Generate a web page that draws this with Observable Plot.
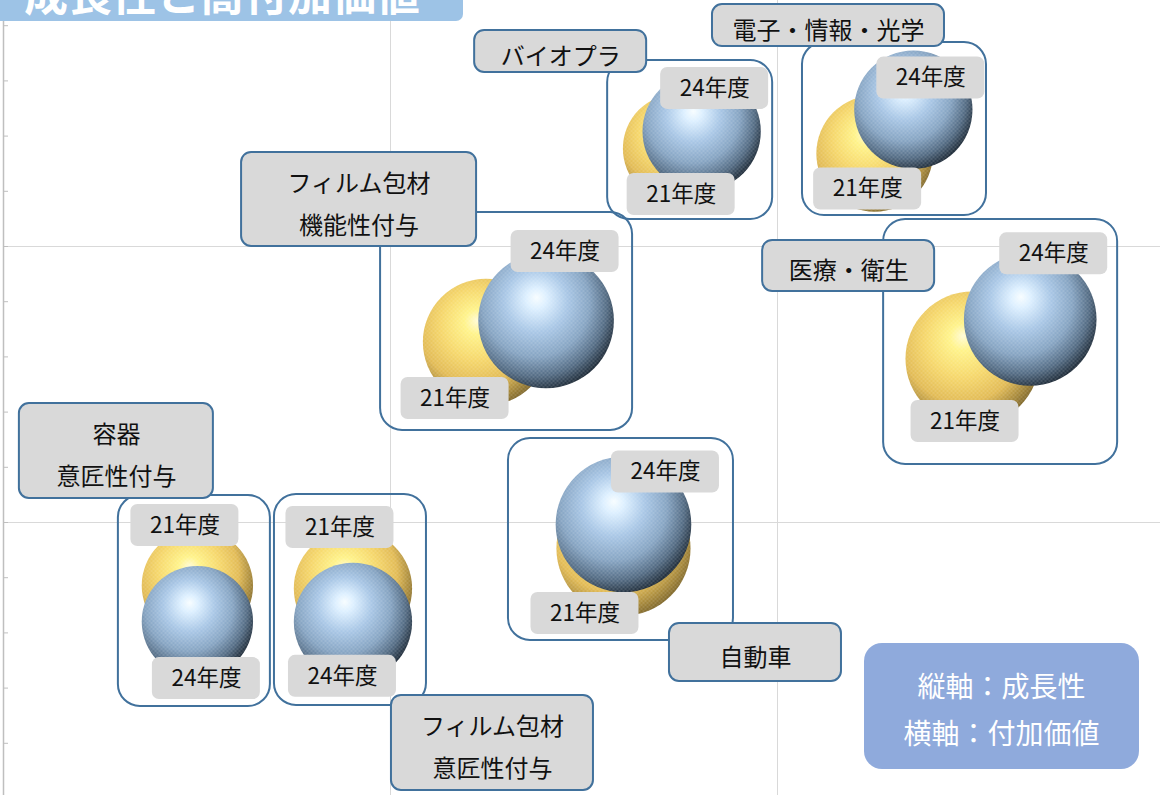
<!DOCTYPE html>
<html><head><meta charset="utf-8">
<script src="https://cdn.jsdelivr.net/npm/d3@7"></script>
<script src="https://cdn.jsdelivr.net/npm/@observablehq/plot@0.6"></script>
<style>
body{margin:0;background:#fff;font-family:"Noto Sans CJK JP",sans-serif;}
#wrap{position:relative;width:1160px;height:795px;overflow:hidden;}
#title{position:absolute;left:0;top:0;z-index:2;width:463px;height:21px;background:#9dc3e6;border-radius:0 0 7px 0;overflow:hidden;}
#title span{position:absolute;left:24px;top:-30px;font-size:44px;line-height:44px;font-weight:bold;color:#fff;white-space:nowrap;}
#chart{position:absolute;left:0;top:0;}
#chart svg{display:block;}
#note{position:absolute;z-index:2;left:864px;top:643px;width:275px;height:126px;box-sizing:border-box;padding-top:19px;background:#8faadc;border-radius:18px;color:#fff;font-size:28px;line-height:47px;text-align:center;}
</style>
</head><body>
<div id="wrap">
  <div id="chart"></div>
  <div id="title"><span>成長性と高付加価値</span></div>
  <div id="note">縦軸：成長性<br>横軸：付加価値</div>
</div>
<script>
// ---------- data ----------
const categories = ["バイオプラ", "電子・情報・光学", "フィルム包材\n機能性付与", "医療・衛生", "自動車", "容器\n意匠性付与", "フィルム包材\n意匠性付与"];
const years = ["21年度", "24年度"];
// 横軸：付加価値 / 縦軸：成長性 / bubble size
const value21  = [1.742, 2.251, 1.247, 2.504, 1.602, 0.501, 0.903];
const growth21 = [2.355, 2.337, 1.654, 1.594, 0.906, 0.772, 0.761];
const size21   = [30, 34, 40, 45, 45, 31, 35];
const value24  = [1.804, 2.351, 1.402, 2.653, 1.602, 0.501, 0.903];
const growth24 = [2.417, 2.496, 1.732, 1.736, 0.993, 0.641, 0.640];
const size24   = [35, 35, 46, 44, 46, 31, 35];
const yMinorTicks = [0.2, 0.4, 0.6, 0.8, 1.0, 1.2, 1.4, 1.6, 1.8, 2.0, 2.2, 2.4, 2.6, 2.8];
const gridXTicks = [1, 2];
const gridYTicks = [1, 2];

// ---------- layout (pixels) ----------
const W = 1160, H = 795, ML = 3;
const KX = 387, KY = 276; // px per unit
const xDomain = [0, (W - ML) / KX];
const yDomain = [3 / KY, (H + 3) / KY];
const groupBox = [[-82,-79.5,83,79.5],[-91.5,-89,92.5,84],[-135.5,-118.75,116.5,99.25],[-117.75,-119.5,116.25,125.5],[-115,-98,110,104],[-79,-108,73,103],[-78.5,-110.75,73.5,100.25]];
const catBox = [[-129,-88.5,172,42],[-65.5,-106,232,42],[-157,-131.75,235,94],[-152.75,-73,172,51],[132,116,172,58],[-81,-152.5,194,95],[139.5,137.75,202,95]];
const yearOff21 = [[3.5,46],[-7,35.5],[-31,56.5],[-7.5,63],[-38.5,65],[-12.5,-60],[-13,-61]];
const yearOff24 = [[13,-43],[17.5,-31.5],[19,-69],[23.5,-65.5],[42,-52.5],[9,57],[-10.5,54.5]];
const YW = 108, YH = 42;
const font = '"Noto Sans CJK JP", sans-serif';

// ---------- tables ----------
const b21 = categories.map((c, i) => ({cat: c, year: years[0], x: value21[i], y: growth21[i], size: size21[i], off: yearOff21[i]}));
const b24 = categories.map((c, i) => ({cat: c, year: years[1], x: value24[i], y: growth24[i], size: size24[i], off: yearOff24[i]}));
const px = d => d / KX, py = d => -d / KY;
const groups = categories.map((c, i) => {
  const ax = (value21[i] + value24[i]) / 2, ay = (growth21[i] + growth24[i]) / 2;
  const g = groupBox[i], k = catBox[i];
  return {cat: c, ax, ay,
    gx1: ax + px(g[0]), gx2: ax + px(g[2]), gy1: ay + py(g[1]), gy2: ay + py(g[3]),
    lx: ax + px(k[0]), ly: ay + py(k[1]), lw: k[2], lh: k[3]};
});
const yearLabels = [...b21, ...b24].map(d => ({year: d.year, lx: d.x + px(d.off[0]), ly: d.y + py(d.off[1])}));

const chart = Plot.plot({
  width: W, height: H,
  marginLeft: ML, marginRight: 0, marginTop: 0, marginBottom: 0,
  x: {domain: xDomain, axis: null},
  y: {domain: yDomain, axis: null},
  r: {type: "sqrt", domain: [0, 46], range: [0, 67.8]},
  style: {fontFamily: font, background: "transparent"},
  marks: [
    Plot.gridX(gridXTicks, {stroke: "#d9d9d9", strokeOpacity: 1}),
    Plot.gridY(gridYTicks, {stroke: "#d9d9d9", strokeOpacity: 1}),
    Plot.ruleX([0], {stroke: "#bfbfbf", strokeWidth: 1.5}),
    Plot.ruleY(yMinorTicks, {x1: 0, x2: px(5), stroke: "#bfbfbf"}),
    Plot.rect(groups, {x1: "gx1", x2: "gx2", y1: "gy1", y2: "gy2", fill: "none", stroke: "#41719c", strokeWidth: 2, rx: 22}),
    Plot.dot(b21, {x: "x", y: "y", r: "size", fill: "url(#gYellow)"}),
    Plot.dot(b21, {x: "x", y: "y", r: "size", fill: "url(#tex)"}),
    Plot.dot(b24, {x: "x", y: "y", r: "size", fill: "url(#gBlue)"}),
    Plot.dot(b24, {x: "x", y: "y", r: "size", fill: "url(#tex)"}),
    Plot.rect(yearLabels, {x1: d => d.lx - px(YW / 2), x2: d => d.lx + px(YW / 2), y1: d => d.ly - YH / 2 / KY, y2: d => d.ly + YH / 2 / KY, fill: "#d9d9d9", rx: 7}),
    Plot.text(yearLabels, {x: "lx", y: "ly", text: "year", fontSize: 22.5, fill: "#111", fontFamily: font}),
    Plot.rect(groups, {x1: d => d.lx - px(d.lw / 2), x2: d => d.lx + px(d.lw / 2), y1: d => d.ly - d.lh / 2 / KY, y2: d => d.ly + d.lh / 2 / KY, fill: "#d9d9d9", stroke: "#41719c", strokeWidth: 2, rx: 10}),
    Plot.text(groups, {x: "lx", y: "ly", text: "cat", fontSize: 24, lineHeight: 1.75, fill: "#111", fontFamily: font})
  ]
});
document.getElementById("chart").appendChild(chart);

// gradients & texture
const defs = d3.select(chart).insert("defs", ":first-child");
function grad(id, stops) {
  const g = defs.append("radialGradient").attr("id", id)
    .attr("cx", 0.42).attr("cy", 0.4).attr("r", 0.66).attr("fx", 0.43).attr("fy", 0.33);
  stops.forEach(([o, c]) => g.append("stop").attr("offset", o).attr("stop-color", c));
}
grad("gBlue", [[0, "#f7fdff"], [0.12, "#dcefff"], [0.35, "#a9c7e6"], [0.6, "#86a4c2"], [0.8, "#536b83"], [0.95, "#1f2c39"], [1, "#1a2530"]]);
grad("gYellow", [[0, "#fffbd6"], [0.15, "#fff38a"], [0.42, "#f6d86c"], [0.68, "#e2bb56"], [0.85, "#a88a3c"], [1, "#6f5a26"]]);
const pat = defs.append("pattern").attr("id", "tex").attr("patternUnits", "userSpaceOnUse").attr("width", 4).attr("height", 4);
pat.append("rect").attr("x", 0).attr("y", 0).attr("width", 2).attr("height", 1).attr("fill", "#fff").attr("fill-opacity", 0.22);
pat.append("rect").attr("x", 2).attr("y", 2).attr("width", 2).attr("height", 1).attr("fill", "#fff").attr("fill-opacity", 0.22);
</script>
</body></html>
